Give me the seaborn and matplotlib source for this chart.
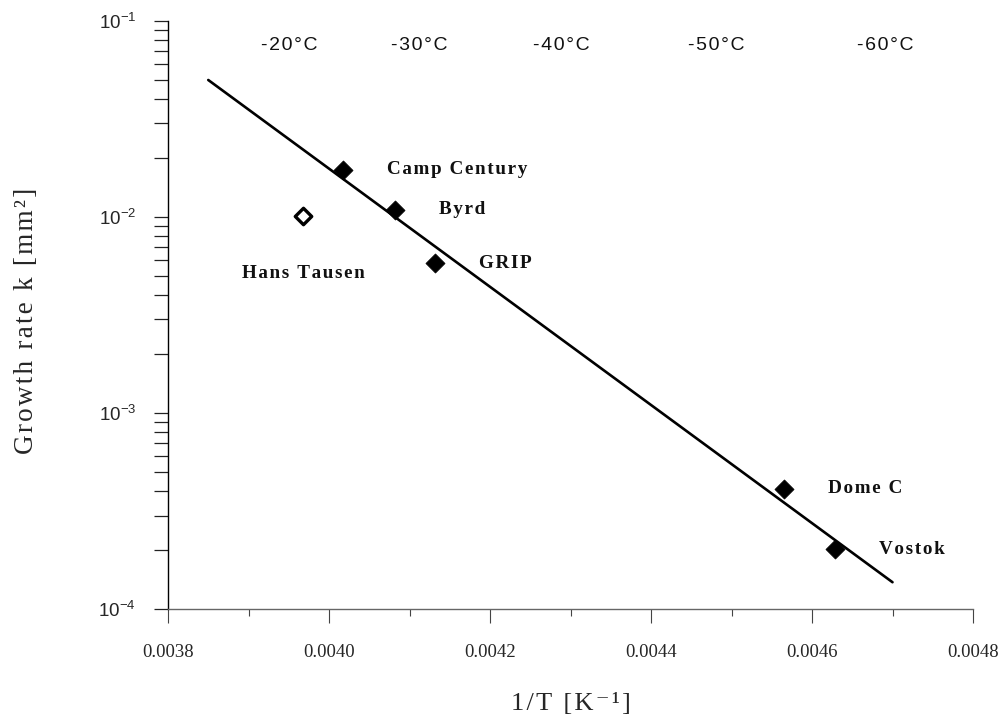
import numpy as np
import pandas as pd
import matplotlib
matplotlib.use("Agg")
import matplotlib.pyplot as plt
from matplotlib.ticker import MultipleLocator, LogLocator, FixedLocator, NullFormatter
import seaborn as sns

# Ice core sites: inverse temperature (1/K) and grain growth rate k (mm^2)
sites = ["Camp Century", "Byrd", "GRIP", "Dome C", "Vostok"]
inv_t = [0.004017, 0.004082, 0.004132, 0.004565, 0.004628]
growth_k = [0.0174, 0.0109, 0.0058, 0.00041, 0.000202]

# Site shown with an open symbol
open_site = ["Hans Tausen"]
open_inv_t = [0.003968]
open_k = [0.0101]

# Arrhenius fit line end points
fit_inv_t = [0.00385, 0.00470]
fit_k = [0.050, 0.000137]

# Reference temperatures marked along the top
temps_c = [-20, -30, -40, -50, -60]

xtick_vals = [0.0038, 0.0040, 0.0042, 0.0044, 0.0046, 0.0048]
xtick_labels = ["0.0038", "0.0040", "0.0042", "0.0044", "0.0046", "0.0048"]
ytick_vals = [1e-4, 1e-3, 1e-2, 1e-1]
ytick_labels = [r"$10^{-4}$", r"$10^{-3}$", r"$10^{-2}$", r"$10^{-1}$"]

sns.set_style("ticks")
plt.rcParams["font.family"] = ["Liberation Serif", "DejaVu Serif"]
plt.rcParams["mathtext.fontset"] = "custom"
plt.rcParams["mathtext.rm"] = "Liberation Sans"
plt.rcParams["mathtext.it"] = "Liberation Sans:italic"
plt.rcParams["mathtext.bf"] = "Liberation Sans:bold"

SERIF = ["Liberation Serif", "DejaVu Serif"]
SANS = ["Liberation Sans", "DejaVu Sans"]


def spaced(s):
    """Loosen letter spacing with hair spaces."""
    return "\u200a".join(s)


fig = plt.figure(figsize=(10, 7.21), dpi=100)
ax = fig.add_axes([0.168, 0.1553, 0.805, 0.8156])

df = pd.DataFrame({"site": sites, "inv_t": inv_t, "k": growth_k})
df_open = pd.DataFrame({"site": open_site, "inv_t": open_inv_t, "k": open_k})
df_fit = pd.DataFrame({"inv_t": fit_inv_t, "k": fit_k})

sns.lineplot(data=df_fit, x="inv_t", y="k", color="black", linewidth=1.9,
             ax=ax, zorder=2)
sns.scatterplot(data=df, x="inv_t", y="k", marker="D", s=95, color="black",
                edgecolor="black", linewidth=0.5, ax=ax, zorder=3)
sns.scatterplot(data=df_open, x="inv_t", y="k", marker="D", s=70,
                color="white", edgecolor="black", linewidth=2.4, ax=ax, zorder=3)

ax.set_yscale("log")
ax.set_xlim(0.0038, 0.0048)
ax.set_ylim(1e-4, 1e-1)

# Site names
for name, x, y in zip(df["site"], df["inv_t"], df["k"]):
    ax.annotate(spaced(name), (x, y), xytext=(44, 0), textcoords="offset pixels",
                ha="left", va="center", fontsize=13.8, fontweight="bold",
                family=SERIF, color="#111111")
for name, x, y in zip(df_open["site"], df_open["inv_t"], df_open["k"]):
    ax.annotate(spaced(name), (x, y), xytext=(0, -57), textcoords="offset pixels",
                ha="center", va="center", fontsize=13.8, fontweight="bold",
                family=SERIF, color="#111111")

# Temperature scale along the top
for t in temps_c:
    ax.text(1.0 / (273.15 + t), 0.959, spaced(f"{t}°C"),
            transform=ax.get_xaxis_transform(),
            ha="center", va="center", fontsize=14, family=SANS, color="#111111")

# Axes styling
sns.despine(ax=ax, top=True, right=True)
ax.spines["left"].set_color("black")
ax.spines["left"].set_linewidth(1.0)
ax.spines["bottom"].set_color("#666666")
ax.spines["bottom"].set_linewidth(1.0)

ax.xaxis.set_major_locator(FixedLocator(xtick_vals))
ax.xaxis.set_minor_locator(MultipleLocator(0.0001))
ax.set_xticklabels(xtick_labels, family=SERIF)
ax.tick_params(axis="x", which="major", direction="out", length=10, width=0.8,
               color="#444444", pad=15, labelsize=13.5)
ax.tick_params(axis="x", which="minor", direction="out", length=5, width=0.8,
               color="#444444")

ax.yaxis.set_major_locator(FixedLocator(ytick_vals))
ax.yaxis.set_minor_locator(LogLocator(base=10, subs=np.arange(2, 10)))
ax.yaxis.set_minor_formatter(NullFormatter())
ax.set_yticklabels(ytick_labels)
ax.tick_params(axis="y", which="both", direction="out", length=10, width=0.9,
               color="#222222")
ax.tick_params(axis="y", which="major", pad=13, labelsize=13.5)

ax.set_xlabel(spaced("1/T [K⁻¹]"), fontsize=19, family=SERIF)
ax.set_ylabel(spaced("Growth rate k [mm²]"), fontsize=19.5, family=SERIF)
ax.xaxis.set_label_coords(0.5, -0.142)
ax.yaxis.set_label_coords(-0.16, 0.49)

fig.savefig("out.png", dpi=100, facecolor="white")
